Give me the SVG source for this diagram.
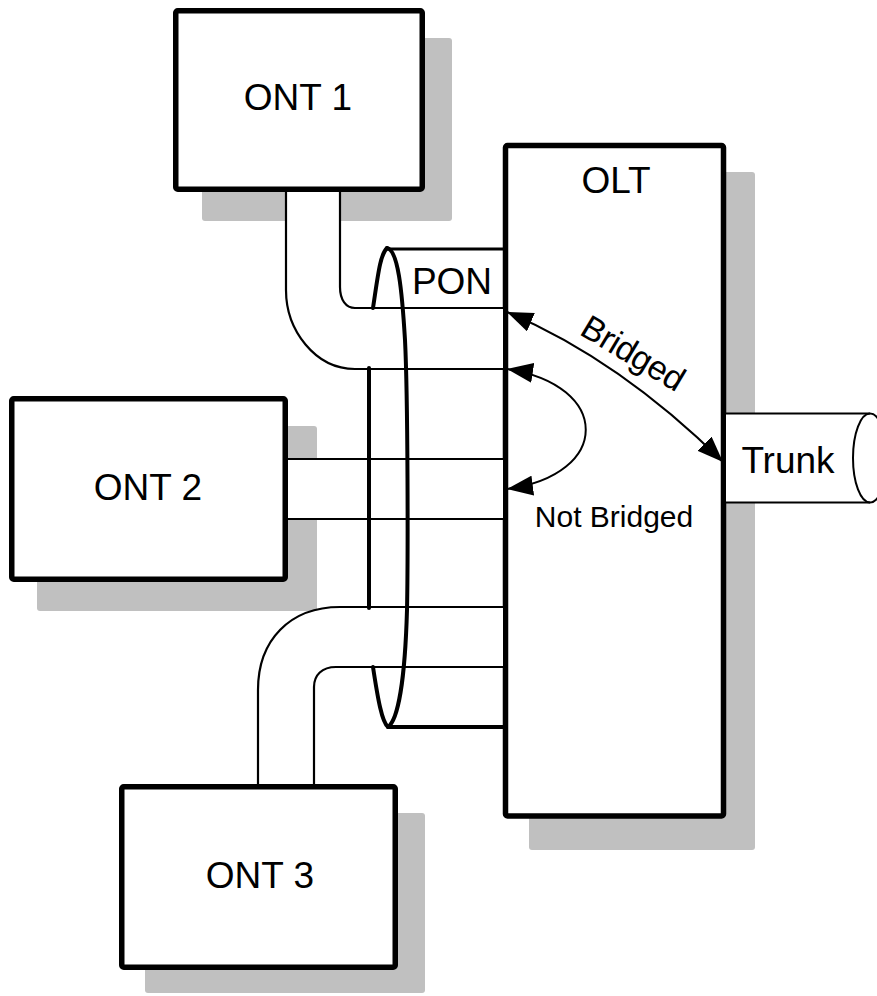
<svg xmlns="http://www.w3.org/2000/svg" width="877" height="996" viewBox="0 0 877 996">
<defs>
<style>
.shadow{fill:#c0c0c0;stroke:none}
.box{fill:#ffffff;stroke:#000;stroke-width:5.5;stroke-linejoin:round}
.lbl{font-family:"Liberation Sans",Arial,sans-serif;font-size:37px;fill:#000;text-anchor:middle}
.small{font-family:"Liberation Sans",Arial,sans-serif;font-size:30px;fill:#000;text-anchor:middle}
.diag{font-family:"Liberation Sans",Arial,sans-serif;font-size:34px;letter-spacing:-0.5px;fill:#000;text-anchor:middle}
.tube{fill:#ffffff;stroke:none}
.cable{fill:none;stroke:#000;stroke-width:2.2}
.pon{fill:none;stroke:#000;stroke-width:4;stroke-linecap:round}
.arrow{fill:none;stroke:#000;stroke-width:2}
</style>
<marker id="ah" viewBox="0 0 26 20" refX="26" refY="10" markerWidth="26" markerHeight="20" markerUnits="userSpaceOnUse" orient="auto-start-reverse">
<path d="M0,0 L26,10 L0,20 Z" fill="#000"/>
</marker>
</defs>
<rect width="877" height="996" fill="#ffffff"/>

<g id="ont1">
<rect class="shadow" x="202" y="38" width="250" height="183" rx="3"/>
<rect class="box" x="175.75" y="10.75" width="246.5" height="178.5" rx="2"/>
<text class="lbl" x="298" y="110">ONT 1</text>
</g>

<g id="ont2">
<rect class="shadow" x="37" y="426" width="280" height="185" rx="3"/>
<rect class="box" x="11.75" y="398.75" width="273.5" height="180.5" rx="2"/>
<text class="lbl" x="148" y="500">ONT 2</text>
</g>

<g id="ont3">
<rect class="shadow" x="145" y="813" width="280" height="180" rx="3"/>
<rect class="box" x="121.75" y="786.75" width="273.5" height="180.5" rx="2"/>
<text class="lbl" x="260" y="888">ONT 3</text>
</g>

<g id="olt">
<rect class="shadow" x="529" y="172" width="226" height="678" rx="3"/>
<rect class="box" x="505.5" y="145.5" width="218" height="670.5" rx="2"/>
<text class="lbl" x="616" y="193">OLT</text>
</g>

<g id="trunk">
<path d="M726,413.5 H870 A17,44.5 0 0 1 870,502.5 H726 Z" fill="#ffffff"/>
<path d="M726,413.5 H870 M726,502.5 H870" class="cable" stroke-width="2.6"/>
<ellipse cx="870" cy="458" rx="17" ry="44.5" fill="none" stroke="#000" stroke-width="2"/>
<text class="lbl" x="788" y="473">Trunk</text>
</g>

<g id="connectors">
<path class="tube" d="M286,192 V290 C286,330 315,369 355,369 H503 V308 H355 C346,308 340,300 340,287 V192 Z"/>
<path class="cable" d="M286,191 V290 C286,330 315,369 355,369 H505"/>
<path class="cable" d="M340,191 V287 C340,300 346,308 355,308 H505"/>
<rect class="tube" x="288" y="459" width="215" height="60"/>
<path class="cable" d="M288,459 H505 M288,519 H505"/>
<path class="tube" d="M258,784 V690 C258,640 290,607 340,607 H503 V667 H336 C322,667 314,675 314,687 V784 Z"/>
<path class="cable" d="M258,785 V690 C258,640 290,607 340,607 H505"/>
<path class="cable" d="M314,785 V687 C314,675 322,667 336,667 H505"/>
<path class="arrow" d="M507,312 Q620,360 723,462" marker-start="url(#ah)" marker-end="url(#ah)"/>
<path class="arrow" d="M507,369 C612,385 612,475 507,489" marker-start="url(#ah)" marker-end="url(#ah)"/>
<text class="diag" x="627" y="363" transform="rotate(31 627 363)">Bridged</text>
<text class="small" x="614" y="527">Not Bridged</text>
</g>

<g id="pon">
<path d="M387,249 H505" stroke="#000" stroke-width="3" fill="none"/>
<path d="M388,727 H505" stroke="#000" stroke-width="4" fill="none"/>
<path class="pon" d="M387,248 C398,250 402,290 405,340 C408,400 408,560 407,610 C405,680 398,720 388,727"/>
<path class="pon" d="M387,248 C380,255 378,275 373,308"/>
<path class="pon" d="M373,667 C378,700 382,722 388,727"/>
<path class="pon" d="M369,368 V608"/>
<text class="lbl" x="452" y="294">PON</text>
</g>
</svg>
